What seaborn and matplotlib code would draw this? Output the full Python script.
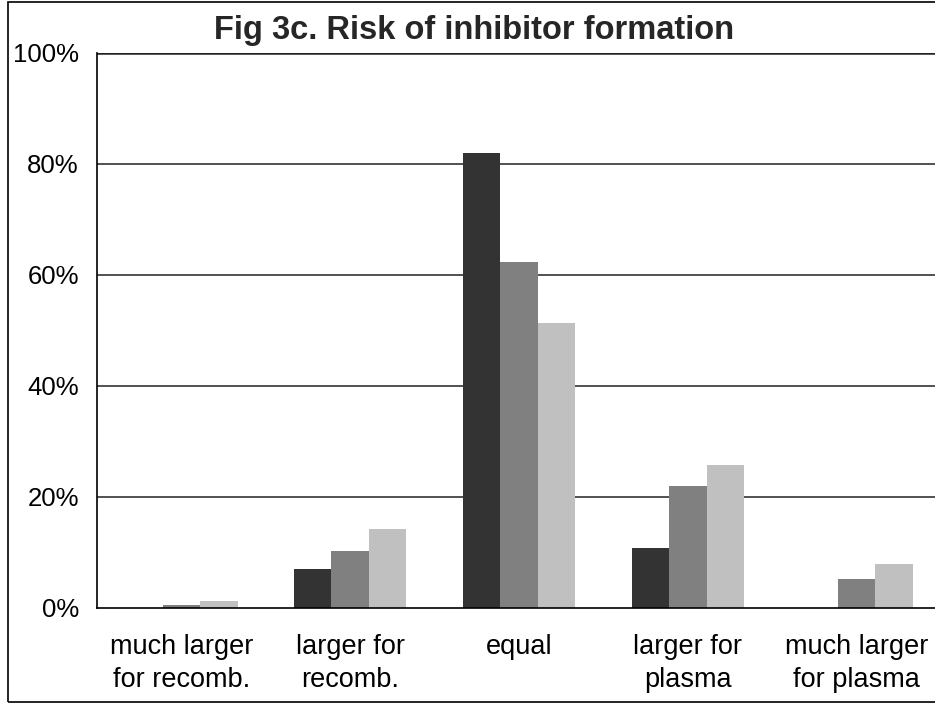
import matplotlib
matplotlib.use("Agg")
import matplotlib.pyplot as plt
import seaborn as sns
import pandas as pd
import numpy as np
from matplotlib.patches import Rectangle
from matplotlib.ticker import FuncFormatter, FixedLocator

categories = ["much larger\nfor recomb.", "larger for\nrecomb.", "equal",
              "larger for\nplasma", "much larger\nfor plasma"]
series_names = ["Series 1", "Series 2", "Series 3"]
series1 = [0.0, 7.0, 82.0, 10.7, 0.0]
series2 = [0.5, 10.1, 62.2, 21.9, 5.1]
series3 = [1.1, 14.1, 51.3, 25.7, 7.9]
colors = ["#333333", "#808080", "#C0C0C0"]
yticks = [0, 20, 40, 60, 80, 100]

rows = []
for name, vals in zip(series_names, [series1, series2, series3]):
    for c, v in zip(categories, vals):
        rows.append({"category": c, "series": name, "value": v})
df = pd.DataFrame(rows)

sns.set_style("white")
plt.rcParams["font.family"] = ["Liberation Sans", "DejaVu Sans"]

W, H = 935, 704
fig = plt.figure(figsize=(W / 100, H / 100), dpi=100)
left, right, bottom, top = 97, 941, 607.5, 52.7
ax = fig.add_axes([left / W, 1 - bottom / H, (right - left) / W, (bottom - top) / H])

sns.barplot(data=df, x="category", y="value", hue="series", order=categories,
            hue_order=series_names, palette=colors, width=0.666, ax=ax,
            saturation=1, legend=False, edgecolor="none", linewidth=0)

ax.set_xlim(-0.5, 4.5)
ax.set_ylim(0, 100)
ax.set_yticks(yticks)
ax.yaxis.set_major_formatter(FuncFormatter(lambda v, p: f"{int(v)}%"))
for y in yticks[1:]:
    ax.axhline(y, color="#222222", lw=1.1 if y < 100 else 1.8, zorder=0.5)

ax.set_xlabel("")
ax.set_ylabel("")
ax.xaxis.set_minor_locator(FixedLocator(np.arange(-0.5, 5.0, 1.0)))
ax.tick_params(axis="x", which="major", length=0, pad=19, labelsize=19.5, colors="black")
ax.tick_params(axis="x", which="minor", length=8, width=1, color="black", direction="out")
ax.tick_params(axis="y", which="major", length=7, width=1, color="black", direction="out",
               labelsize=18.5, pad=6, labelcolor="black")
for lbl in ax.get_xticklabels():
    lbl.set_linespacing(1.35)

for s in ["top", "right"]:
    ax.spines[s].set_visible(False)
for s in ["left", "bottom"]:
    ax.spines[s].set_color("black")
    ax.spines[s].set_linewidth(1.2)

fig.text(474 / W, 1 - 31 / H, "Fig 3c. Risk of inhibitor formation", ha="center",
         va="center", fontsize=23.5, fontweight="bold")

fig.patches.append(Rectangle((8 / W, 2 / H), 1.0, (700) / H, transform=fig.transFigure,
                             fill=False, edgecolor="black", lw=1.2, figure=fig))

fig.savefig("out.png", dpi=100)
